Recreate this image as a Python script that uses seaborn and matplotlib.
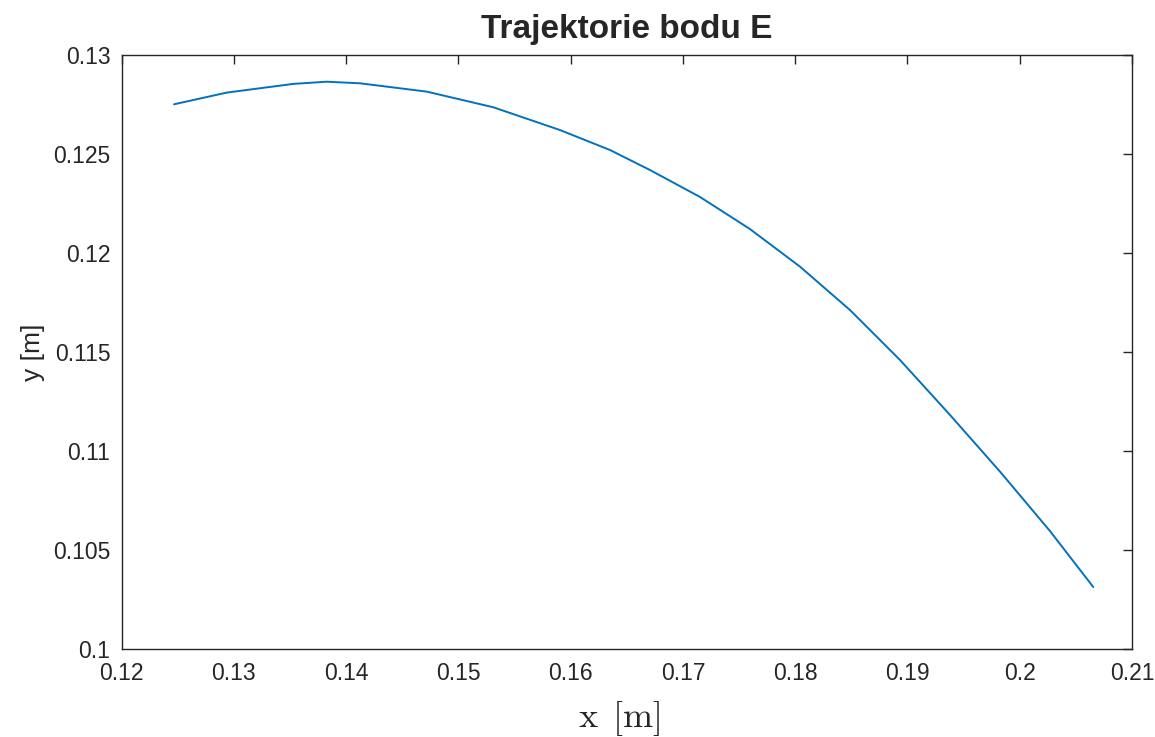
import pandas as pd
import matplotlib.pyplot as plt
import seaborn as sns
from matplotlib.ticker import FuncFormatter

# trajectory of point E
x_m = [0.12468, 0.12937, 0.13530, 0.13828, 0.14124, 0.14718, 0.15311,
       0.15905, 0.16351, 0.16707, 0.17152, 0.17597, 0.18043, 0.18488,
       0.18933, 0.19379, 0.19824, 0.20269, 0.20655]
y_m = [0.12751, 0.12810, 0.12854, 0.12865, 0.12857, 0.12815, 0.12736,
       0.12621, 0.12520, 0.12419, 0.12283, 0.12121, 0.11931, 0.11712,
       0.11460, 0.11182, 0.10896, 0.10596, 0.10313]

x_ticks = [0.12, 0.13, 0.14, 0.15, 0.16, 0.17, 0.18, 0.19, 0.20, 0.21]
y_ticks = [0.100, 0.105, 0.110, 0.115, 0.120, 0.125, 0.130]

sns.set_style('white')
plt.rcParams.update({
    'font.family': ['Liberation Sans', 'DejaVu Sans'],
    'mathtext.fontset': 'cm',
    'axes.edgecolor': '#262626',
    'axes.linewidth': 1.0,
    'xtick.color': '#262626',
    'ytick.color': '#262626',
    'xtick.labelcolor': '#262626',
    'ytick.labelcolor': '#262626',
})

df = pd.DataFrame({'x': x_m, 'y': y_m})

fig = plt.figure(figsize=(11.55, 7.37), dpi=100)
ax = fig.add_axes([0.1052, 0.1194, 0.9801 - 0.1052, 0.9254 - 0.1194])

sns.lineplot(data=df, x='x', y='y', sort=False, color='#0072BD', linewidth=1.4, ax=ax)

ax.set_xlim(0.12, 0.21)
ax.set_ylim(0.1, 0.13)
ax.set_xticks(x_ticks)
ax.set_yticks(y_ticks)
fmt = FuncFormatter(lambda v, pos: f'{v:g}')
ax.xaxis.set_major_formatter(fmt)
ax.yaxis.set_major_formatter(fmt)

ax.tick_params(direction='in', length=6.5, width=1.0, top=True, right=True,
               labelsize=16.5)
ax.tick_params(axis='x', pad=9)
ax.tick_params(axis='y', pad=8)
for s in ax.spines.values():
    s.set_visible(True)

ax.set_title('Trajektorie bodu E', fontsize=24, fontweight='bold', pad=12)
ax.set_xlabel(r'$\mathrm{x\ \,[m]}$', fontsize=26, color='#262626')
ax.xaxis.set_label_coords(0.493, -0.085)
ax.set_ylabel('y [m]', fontsize=19, color='#262626', labelpad=6)

plt.savefig('out.png', dpi=100)
